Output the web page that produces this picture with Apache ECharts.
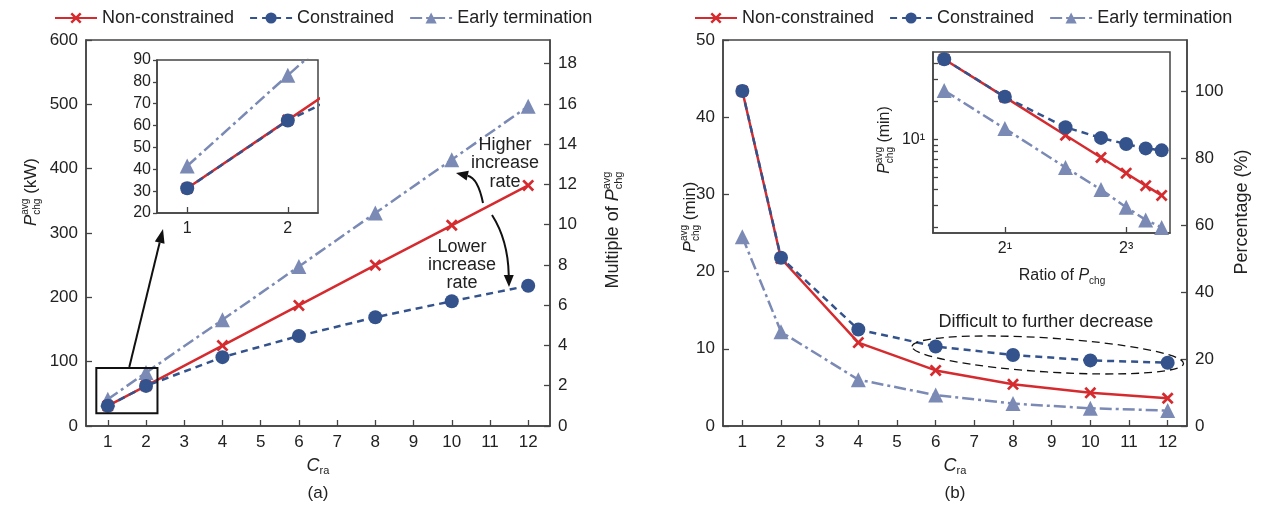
<!DOCTYPE html>
<html>
<head>
<meta charset="utf-8">
<script src="https://cdn.jsdelivr.net/npm/echarts@6/dist/echarts.min.js"></script>
<style>
html, body { margin: 0; padding: 0; background: #fff; }
#main { width: 1264px; height: 511px; }
</style>
</head>
<body>
<div id="main"></div>
<script>
// values
const cra = [1, 2, 4, 6, 8, 10, 12];
const xTicks = [1, 2, 3, 4, 5, 6, 7, 8, 9, 10, 11, 12];
const insetTicks = [1, 2];
const powerNon = [31.3, 62.5, 125, 187.5, 250, 312, 374];
const powerCon = [31.3, 62.3, 107, 140, 169, 194, 218];
const powerEarly = [41.5, 83, 165, 248, 331, 414, 497];
const timeNon = [43.4, 21.7, 10.8, 7.2, 5.4, 4.3, 3.6];
const timeCon = [43.4, 21.8, 12.5, 10.3, 9.2, 8.5, 8.2];
const timeEarly = [24.5, 12.2, 6.0, 4.0, 2.9, 2.3, 2.0];
const ratioTicks = [2, 8];               // 2^1, 2^3
const minuteTicks = [2, 3, 4, 5, 6, 7, 8, 9, 10, 20, 30, 40];

const FONT = '"Liberation Sans", Arial, sans-serif';
const TXT = '#222';
const AX = '#444';
const RED = '#d52b2f';
const BLUE = '#34538d';
const GREY = '#7b8ab5';
const XSYM = 'path://M0,1.6L1.6,0L5,3.4L8.4,0L10,1.6L6.6,5L10,8.4L8.4,10L5,6.6L1.6,10L0,8.4L3.4,5Z';

const names = ['Non-constrained', 'Constrained', 'Early termination'];
const look = {
    'Non-constrained': { color: RED, symbol: XSYM, size: 12, type: 'solid', z: 3 },
    'Constrained': { color: BLUE, symbol: 'circle', size: 14, type: [7, 5], z: 4 },
    'Early termination': { color: GREY, symbol: 'triangle', size: 15, type: [12, 4, 3, 4], z: 2 }
};

const chart = echarts.init(document.getElementById('main'));

function lineSeries(name, xs, ys, xi, yi, fx, fy) {
    let l = look[name];
    return {
        name: name, type: 'line', xAxisIndex: xi, yAxisIndex: yi, z: l.z,
        data: xs.map((x, i) => [fx ? fx(x) : x, fy ? fy(ys[i]) : ys[i]]),
        symbol: l.symbol, symbolSize: l.size, showAllSymbol: true,
        lineStyle: { color: l.color, width: 2.5, type: l.type },
        itemStyle: { color: l.color, opacity: 1 },
        emphasis: { disabled: true }, animation: false, clip: true
    };
}

function valueAxis(o) {
    let base = {
        type: 'value',
        axisLine: { show: true, onZero: false, lineStyle: { color: AX, width: 1.5 } },
        axisTick: { show: true, inside: true, length: 6, lineStyle: { color: AX, width: 1.3 } },
        axisLabel: { fontSize: 17, color: TXT, fontFamily: FONT, margin: 8 },
        splitLine: { show: false }
    };
    for (let k in o) {
        if (typeof o[k] === 'object' && base[k] && !Array.isArray(o[k])) base[k] = Object.assign({}, base[k], o[k]);
        else base[k] = o[k];
    }
    return base;
}

const log2 = v => Math.log2(v);
const log10 = v => Math.log10(v);

const series = [];
['Early termination', 'Non-constrained', 'Constrained'].forEach(n => {
    let p = n === 'Non-constrained' ? powerNon : n === 'Constrained' ? powerCon : powerEarly;
    let t = n === 'Non-constrained' ? timeNon : n === 'Constrained' ? timeCon : timeEarly;
    series.push(lineSeries(n, cra, p, 0, 0));
    series.push(lineSeries(n, cra, p, 1, 2));
    series.push(lineSeries(n, cra, t, 2, 3));
    series.push(lineSeries(n, cra, t, 3, 5, log2, log10));
});

const legendBase = { data: names, top: 4, itemWidth: 42, itemHeight: 14, itemGap: 15,
    textStyle: { fontSize: 18, color: TXT, fontFamily: FONT } };

const gridBase = { show: true, borderColor: AX, borderWidth: 1.5, outerBoundsMode: 'none', containLabel: false };

const option = {
    backgroundColor: '#fff',
    textStyle: { fontFamily: FONT },
    legend: [
        Object.assign({ left: 49 }, legendBase),
        Object.assign({ left: 689 }, legendBase)
    ],
    grid: [
        Object.assign({ left: 86, top: 40, width: 464, height: 386 }, gridBase),
        Object.assign({ left: 157, top: 60, width: 161, height: 153, backgroundColor: '#fff' }, gridBase),
        Object.assign({ left: 723, top: 40, width: 464, height: 386 }, gridBase),
        Object.assign({ left: 933, top: 52, width: 237, height: 181, backgroundColor: '#fff' }, gridBase)
    ],
    xAxis: [
        valueAxis({ gridIndex: 0, min: 0.43, max: 12.57, axisTick: { customValues: xTicks }, axisLabel: { customValues: xTicks } }),
        valueAxis({ gridIndex: 1, min: 0.7, max: 2.3, axisTick: { customValues: insetTicks }, axisLabel: { customValues: insetTicks, fontSize: 16 } }),
        valueAxis({ gridIndex: 2, min: 0.5, max: 12.5, axisTick: { customValues: xTicks }, axisLabel: { customValues: xTicks } }),
        valueAxis({ gridIndex: 3, min: log2(0.88), max: log2(13.2),
            axisTick: { customValues: ratioTicks.map(log2) },
            axisLabel: { customValues: ratioTicks.map(log2), fontSize: 16, formatter: v => '2' + (Math.round(v) === 1 ? '¹' : '³') } })
    ],
    yAxis: [
        valueAxis({ gridIndex: 0, min: 0, max: 600, interval: 100 }),
        valueAxis({ gridIndex: 0, position: 'right', min: 0, max: 600 / powerNon[0], interval: 2, axisLabel: { showMaxLabel: false } }),
        valueAxis({ gridIndex: 1, min: 20, max: 90, interval: 10, axisTick: { inside: false, length: 4 }, axisLabel: { fontSize: 16, margin: 6 } }),
        valueAxis({ gridIndex: 2, min: 0, max: 50, interval: 10 }),
        valueAxis({ gridIndex: 2, position: 'right', min: 0, max: 5000 / timeNon[0], interval: 20, axisLabel: { showMaxLabel: false } }),
        valueAxis({ gridIndex: 3, min: log10(1.81), max: log10(49.5),
            axisTick: { customValues: minuteTicks.map(log10), length: 5 },
            axisLabel: { customValues: [1], fontSize: 16, formatter: () => '10¹' } })
    ],
    series: series
};
chart.setOption(option);

// ---- annotations and axis names ----
const ctx = document.createElement('canvas').getContext('2d');
function measure(t, font) { ctx.font = font; return ctx.measureText(t).width; }

function textGroup(segs, cx, cy, rot) {
    let children = [];
    let x = 0, stackW = 0;
    segs.forEach(s => {
        let font = (s.it ? 'italic ' : '') + s.fs + 'px ' + FONT;
        let w = measure(s.t, font);
        children.push({ type: 'text', x: x, y: s.dy || 0,
            style: { text: s.t, font: font, fill: TXT, align: 'left', textAlign: 'left', verticalAlign: 'middle', textVerticalAlign: 'middle' } });
        if (s.stack) { stackW = w; } else { x += Math.max(w, stackW); stackW = 0; }
    });
    children.forEach(c => { c.x -= x / 2; });
    return { type: 'group', x: cx, y: cy, rotation: rot || 0, silent: true, z: 100, children: children };
}

function pchg(fs, small, tail, lead) {
    let a = [];
    if (lead) a.push({ t: lead, fs: fs });
    a.push({ t: 'P', fs: fs, it: true });
    a.push({ t: 'avg', fs: small, dy: -Math.round(fs * 0.36), stack: true });
    a.push({ t: 'chg', fs: small, dy: Math.round(fs * 0.33) });
    if (tail) a.push({ t: tail, fs: fs });
    return a;
}

function plain(t, x, y, fs, align) {
    return { type: 'text', x: x, y: y, silent: true, z: 100,
        style: { text: t, font: fs + 'px ' + FONT, fill: TXT, align: align || 'center', textAlign: align || 'center', verticalAlign: 'middle', textVerticalAlign: 'middle' } };
}

function arrow(p0, c, p1, head) {
    let ang = Math.atan2(p1[1] - c[1], p1[0] - c[0]);
    let hl = head || 13, hw = 5;
    let bx = p1[0] - hl * Math.cos(ang), by = p1[1] - hl * Math.sin(ang);
    let nx = -Math.sin(ang) * hw, ny = Math.cos(ang) * hw;
    return [
        { type: 'bezierCurve', silent: true, z: 90,
          shape: { x1: p0[0], y1: p0[1], cpx1: c[0], cpy1: c[1], x2: bx, y2: by },
          style: { stroke: '#111', lineWidth: 2, fill: 'none' } },
        { type: 'polygon', silent: true, z: 90,
          shape: { points: [[p1[0], p1[1]], [bx + nx, by + ny], [bx - nx, by - ny]] },
          style: { fill: '#111' } }
    ];
}

const rA = chart.convertToPixel({ gridIndex: 0 }, [0.7, 90]);
const rB = chart.convertToPixel({ gridIndex: 0 }, [2.3, 20]);
const ell = chart.convertToPixel({ gridIndex: 2 }, [8.9, 9.2]);
const insetCorner = chart.convertToPixel({ gridIndex: 1 }, [0.7, 20]);
const arrowStart = [rA[0] + 33, rA[1] - 1];
const arrowEnd = [insetCorner[0] + 6, insetCorner[1] + 16];

let graphic = [
    { type: 'rect', silent: true, z: 90,
      shape: { x: rA[0], y: rA[1], width: rB[0] - rA[0], height: rB[1] - rA[1] },
      style: { fill: 'none', stroke: '#111', lineWidth: 2 } },
    { type: 'ellipse', silent: true, z: 90, x: ell[0], y: ell[1], rotation: -0.063,
      shape: { cx: 0, cy: 0, rx: 136, ry: 17 },
      style: { fill: 'none', stroke: '#111', lineWidth: 1.3, lineDash: [8, 5] } },
    textGroup(pchg(17, 10, ' (kW)'), 31, 192, Math.PI / 2),
    textGroup(pchg(18, 11, '', 'Multiple of '), 613, 230, Math.PI / 2),
    textGroup(pchg(17, 10, ' (min)'), 690, 217, Math.PI / 2),
    textGroup([{ t: 'Percentage (%)', fs: 18 }], 1242, 212, Math.PI / 2),
    textGroup(pchg(16, 10, ' (min)'), 885, 140, Math.PI / 2),
    textGroup([{ t: 'Ratio of ', fs: 16 }, { t: 'P', fs: 16, it: true }, { t: 'chg', fs: 10, dy: 5 }], 1062, 276, 0),
    textGroup([{ t: 'C', fs: 18, it: true }, { t: 'ra', fs: 11, dy: 5 }], 318, 466, 0),
    textGroup([{ t: 'C', fs: 18, it: true }, { t: 'ra', fs: 11, dy: 5 }], 955, 466, 0),
    plain('(a)', 318, 493, 17),
    plain('(b)', 955, 493, 17),
    plain('Higher', 505, 145, 18),
    plain('increase', 505, 163, 18),
    plain('rate', 505, 182, 18),
    plain('Lower', 462, 247, 18),
    plain('increase', 462, 265, 18),
    plain('rate', 462, 283, 18),
    plain('Difficult to further decrease', 1046, 322, 18)
];
graphic = graphic
    .concat(arrow(arrowStart, [(arrowStart[0] + arrowEnd[0]) / 2, (arrowStart[1] + arrowEnd[1]) / 2], arrowEnd, 14))
    .concat(arrow([483, 203], [478, 178], [456, 173], 12))
    .concat(arrow([492, 215], [508, 240], [509, 287], 12));

chart.setOption({ graphic: graphic });
</script>
</body>
</html>
